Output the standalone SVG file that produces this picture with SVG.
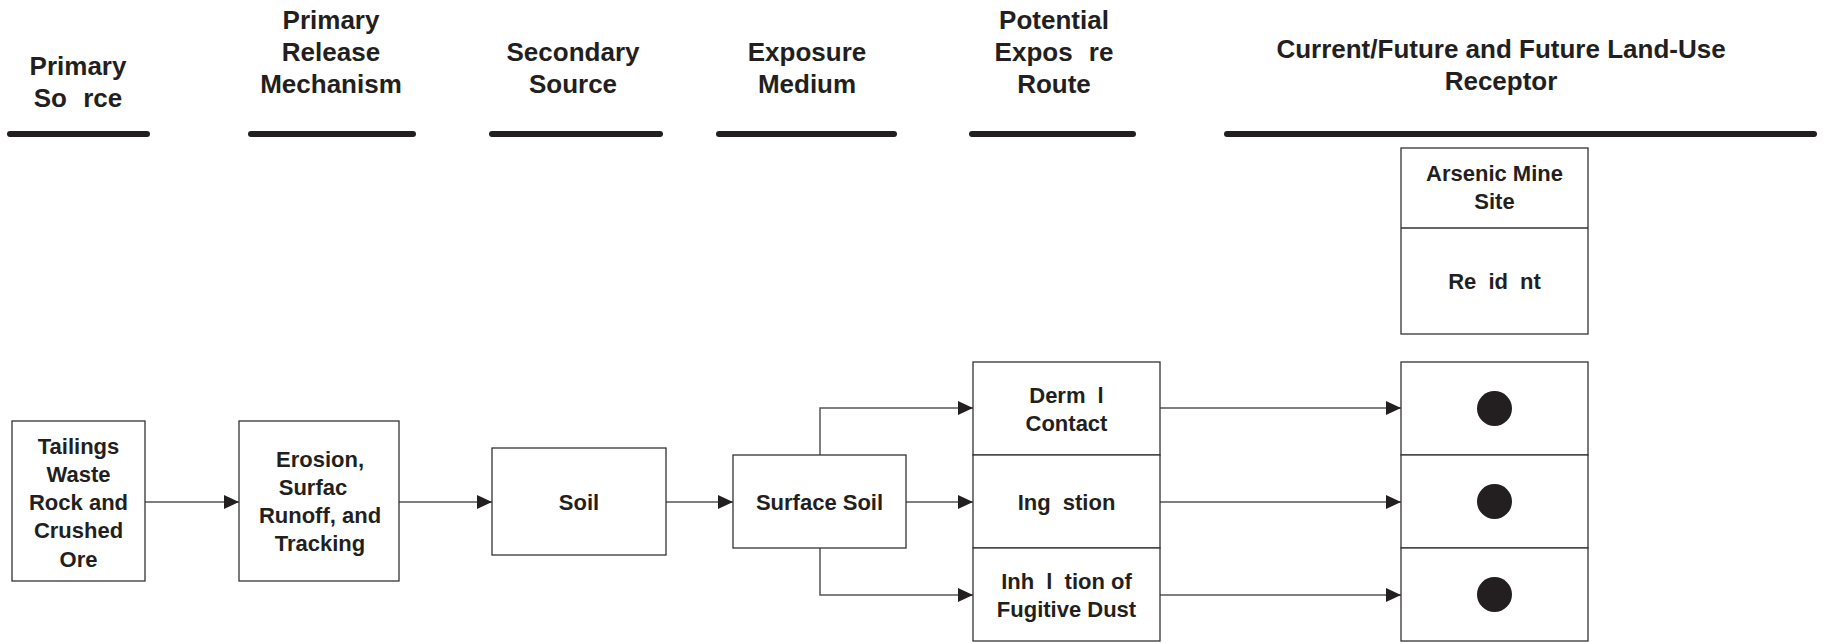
<svg xmlns="http://www.w3.org/2000/svg" width="1824" height="643" viewBox="0 0 1824 643">
<style>
.hd{font-family:"Liberation Sans",Arial,sans-serif;font-weight:bold;font-size:26px;fill:#231f20;text-anchor:middle}
.tx{font-family:"Liberation Sans",Arial,sans-serif;font-weight:bold;font-size:22px;fill:#231f20;text-anchor:middle}
.bar{stroke:#231f20;stroke-width:6;stroke-linecap:round;fill:none}
.box{fill:#fff;stroke:#333;stroke-width:1.3}
.con{stroke:#555;stroke-width:1.5;fill:none;marker-end:url(#arr)}
.dot{fill:#231f20}
</style>
<defs>
<marker id="arr" markerUnits="userSpaceOnUse" markerWidth="16" markerHeight="16" refX="15" refY="7" orient="auto">
<path d="M0,0 L15,7 L0,14 Z" fill="#231f20"/>
</marker>
</defs>
<rect width="1824" height="643" fill="#fff"/>

<g id="column-headers">
<line class="bar" x1="10" y1="134" x2="147" y2="134"/>
<line class="bar" x1="251" y1="134" x2="413" y2="134"/>
<line class="bar" x1="492" y1="134" x2="660" y2="134"/>
<line class="bar" x1="719" y1="134" x2="894" y2="134"/>
<line class="bar" x1="972" y1="134" x2="1133" y2="134"/>
<line class="bar" x1="1227" y1="134" x2="1814" y2="134"/>
<text class="hd" x="78" y="75">Primary</text>
<text class="hd" x="78" y="107">So<tspan dx="9"> rce</tspan></text>
<text class="hd" x="331" y="29">Primary</text>
<text class="hd" x="331" y="61">Release</text>
<text class="hd" x="331" y="93">Mechanism</text>
<text class="hd" x="573" y="61">Secondary</text>
<text class="hd" x="573" y="93">Source</text>
<text class="hd" x="807" y="61">Exposure</text>
<text class="hd" x="807" y="93">Medium</text>
<text class="hd" x="1054" y="29">Potential</text>
<text class="hd" x="1054" y="61">Expos<tspan dx="9"> re</tspan></text>
<text class="hd" x="1054" y="93">Route</text>
<text class="hd" x="1501" y="58">Current/Future and Future Land-Use</text>
<text class="hd" x="1501" y="90">Receptor</text>
</g>

<g id="connectors">
<line class="con" x1="145" y1="502" x2="239" y2="502"/>
<line class="con" x1="399" y1="502" x2="492" y2="502"/>
<line class="con" x1="666" y1="502" x2="733" y2="502"/>
<line class="con" x1="906" y1="502" x2="973" y2="502"/>
<polyline class="con" points="820,455 820,408 973,408"/>
<polyline class="con" points="820,548 820,595 973,595"/>
<line class="con" x1="1160" y1="408" x2="1401" y2="408"/>
<line class="con" x1="1160" y1="502" x2="1401" y2="502"/>
<line class="con" x1="1160" y1="595" x2="1401" y2="595"/>
</g>

<g id="node-tailings">
<rect class="box" x="12" y="421" width="133" height="160"/>
<text class="tx" x="78.5" y="453.5">Tailings</text>
<text class="tx" x="78.5" y="481.8">Waste</text>
<text class="tx" x="78.5" y="510.1">Rock and</text>
<text class="tx" x="78.5" y="538.4">Crushed</text>
<text class="tx" x="78.5" y="566.7">Ore</text>
</g>

<g id="node-erosion">
<rect class="box" x="239" y="421" width="160" height="160"/>
<text class="tx" x="320" y="466.5">Erosion,</text>
<text class="tx" x="313" y="494.5">Surfac</text>
<text class="tx" x="320" y="522.5">Runoff, and</text>
<text class="tx" x="320" y="550.5">Tracking</text>
</g>

<g id="node-soil">
<rect class="box" x="492" y="448" width="174" height="107"/>
<text class="tx" x="579" y="509.5">Soil</text>
</g>

<g id="node-surface-soil">
<rect class="box" x="733" y="455" width="173" height="93"/>
<text class="tx" x="819.5" y="509.5">Surface Soil</text>
</g>

<g id="node-dermal">
<rect class="box" x="973" y="362" width="187" height="93"/>
<text class="tx" x="1066.5" y="402.5">Derm<tspan dx="6"> l</tspan></text>
<text class="tx" x="1066.5" y="430.5">Contact</text>
</g>

<g id="node-ingestion">
<rect class="box" x="973" y="455" width="187" height="93"/>
<text class="tx" x="1066.5" y="509.5">Ing<tspan dx="6"> stion</tspan></text>
</g>

<g id="node-inhalation">
<rect class="box" x="973" y="548" width="187" height="93"/>
<text class="tx" x="1066.5" y="588.5">Inh<tspan dx="6"> l</tspan><tspan dx="6"> tion of</tspan></text>
<text class="tx" x="1066.5" y="616.5">Fugitive Dust</text>
</g>

<g id="node-receptor-header">
<rect class="box" x="1401" y="148" width="187" height="186"/>
<line x1="1401" y1="228" x2="1588" y2="228" stroke="#333" stroke-width="1.3"/>
<text class="tx" x="1494.5" y="181">Arsenic Mine</text>
<text class="tx" x="1494.5" y="208.5">Site</text>
<text class="tx" x="1494.5" y="289">Re<tspan dx="6"> id</tspan><tspan dx="6"> nt</tspan></text>
</g>

<g id="node-receptor-dermal">
<rect class="box" x="1401" y="362" width="187" height="93"/>
<circle class="dot" cx="1494.5" cy="408.5" r="17.5"/>
</g>

<g id="node-receptor-ingestion">
<rect class="box" x="1401" y="455" width="187" height="93"/>
<circle class="dot" cx="1494.5" cy="501.5" r="17.5"/>
</g>

<g id="node-receptor-inhalation">
<rect class="box" x="1401" y="548" width="187" height="93"/>
<circle class="dot" cx="1494.5" cy="594.5" r="17.5"/>
</g>
</svg>
